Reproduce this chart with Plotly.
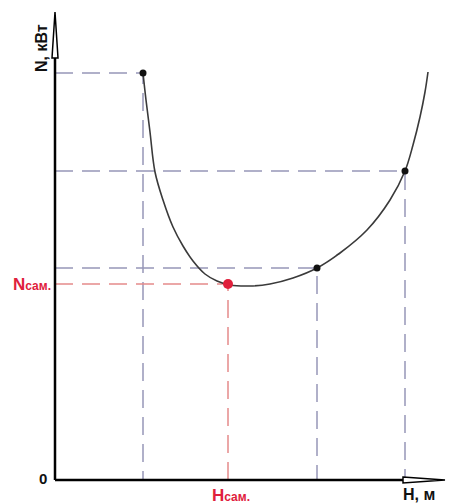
import plotly.graph_objects as go

# curve N(H) (origin at lower-left of axes)
curve_h = [88, 91, 95, 100, 108, 118, 128, 138, 150, 162, 175, 195, 215, 238, 262, 285, 312, 335, 350, 358, 365, 370, 373]
curve_n = [407, 380, 348, 308, 280, 253, 234, 219, 206, 199, 195, 194, 196, 202, 212, 227, 250, 280, 309, 335, 363, 388, 408]

# marked points on the curve
pts_h = [88, 262, 350]
pts_n = [407, 212, 309]
opt_h = 173
opt_n = 196

x_max = 390
y_max = 468

FONT = "Liberation Sans Narrow, Arial Narrow, Liberation Sans, Arial"
GREY_DASH = "#9696b8"
RED_DASH = "#e58a8a"
RED = "#e0203c"

fig = go.Figure()

# dashed guide lines from each marked point to both axes
for h, n in zip(pts_h, pts_n):
    fig.add_trace(go.Scatter(x=[0, h, h], y=[n, n, 0], mode="lines",
                             line=dict(color=GREY_DASH, width=1.5, dash="18px,9px"),
                             hoverinfo="skip", showlegend=False))
fig.add_trace(go.Scatter(x=[0, opt_h, opt_h], y=[opt_n, opt_n, 0], mode="lines",
                         line=dict(color=RED_DASH, width=1.5, dash="18px,9px"),
                         hoverinfo="skip", showlegend=False))

# curve
fig.add_trace(go.Scatter(x=curve_h, y=curve_n, mode="lines",
                         line=dict(color="#3a3a3a", width=1.6, shape="spline", smoothing=1.0),
                         showlegend=False))
fig.add_trace(go.Scatter(x=pts_h, y=pts_n, mode="markers", marker=dict(color="#111", size=7),
                         showlegend=False))
fig.add_trace(go.Scatter(x=[opt_h], y=[opt_n], mode="markers", marker=dict(color=RED, size=10),
                         showlegend=False))

# axes
fig.add_shape(type="line", x0=0, y0=0, x1=0, y1=y_max - 20, line=dict(color="black", width=2.5))
fig.add_shape(type="line", x0=0, y0=0, x1=x_max - 40, y1=0, line=dict(color="black", width=2.5))
# arrow heads (narrow hollow)
fig.add_shape(type="path", path=f"M -3,{y_max - 46} L 0,{y_max} L 3,{y_max - 46} Z",
              line=dict(color="black", width=1.5), fillcolor="white")
fig.add_shape(type="path", path=f"M {x_max - 42},3 L {x_max},0 L {x_max - 42},-3 Z",
              line=dict(color="black", width=1.5), fillcolor="white")

# labels
fig.add_annotation(x=-14, y=y_max - 36, text="<b>N, кВт</b>", textangle=-90, showarrow=False,
                   font=dict(family=FONT, size=16, color="#111"), xanchor="center", yanchor="middle")
fig.add_annotation(x=-6, y=2, text="<b>0</b>", showarrow=False,
                   font=dict(family=FONT, size=15, color="#111"), xanchor="right", yanchor="middle")
fig.add_annotation(x=-2, y=opt_n, text="<b>N<span style='font-size:12px'>сам.</span></b>", showarrow=False,
                   font=dict(family=FONT, size=17, color=RED), xanchor="right", yanchor="middle")
fig.add_annotation(x=opt_h + 3, y=-4, text="<b>H<span style='font-size:12px'>сам.</span></b>", showarrow=False,
                   font=dict(family=FONT, size=17, color=RED), xanchor="center", yanchor="top")
fig.add_annotation(x=x_max - 26, y=-4, text="<b>H, м</b>", showarrow=False,
                   font=dict(family=FONT, size=16, color="#111"), xanchor="center", yanchor="top")

# page body has an 8px margin, so the figure is shrunk and the ranges shifted to match
fig.update_xaxes(range=[-47, 400], visible=False)
fig.update_yaxes(range=[-24, 472], visible=False)
fig.update_layout(width=447, height=496, margin=dict(l=0, r=0, t=0, b=0),
                  plot_bgcolor="white", paper_bgcolor="white", showlegend=False)

fig.write_html("out.html")
